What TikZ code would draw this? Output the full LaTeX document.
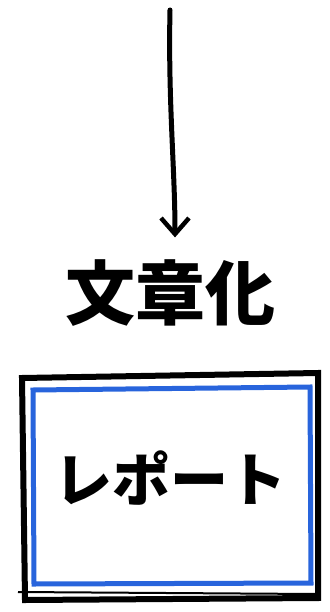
\documentclass[tikz,border=0pt]{standalone}
\usepackage{fontspec}
\newfontfamily\cjk{Noto Sans CJK JP}
\usetikzlibrary{arrows.meta}
\begin{document}
\begin{tikzpicture}[x=1pt,y=-1pt,
  ink/.style={draw=black,line width=5pt,line cap=round},
  blueline/.style={draw={rgb,255:red,40;green,100;blue,220},line width=5pt},
  label/.style={font=\cjk\bfseries,inner sep=0pt}]
\useasboundingbox (0,0) rectangle (329,612);
\coordinate (start) at (170,10);
\node[label,font=\cjk\bfseries\fontsize{70}{70}\selectfont] (verb) at (170,293) {文章化};
\draw[ink,shorten >=22pt,-{Straight Barb[length=16pt,width=28pt,line width=4.5pt]}] (start) .. controls (168,100) and (175,170) .. (verb.north -| 175,0);
\draw[blueline] (33,390) -- (310,387) -- (311,583) -- (34,584) -- cycle;
\draw[ink,line width=6pt] (22,378) -- (318,373) -- (318,598) -- (25,600) -- cycle;
\draw[black,line width=2pt] (18,592) -- (316,594);
\node[label,font=\cjk\bfseries\fontsize{58}{58}\selectfont] (report) at (170,478) {レポート};
\end{tikzpicture}
\end{document}
